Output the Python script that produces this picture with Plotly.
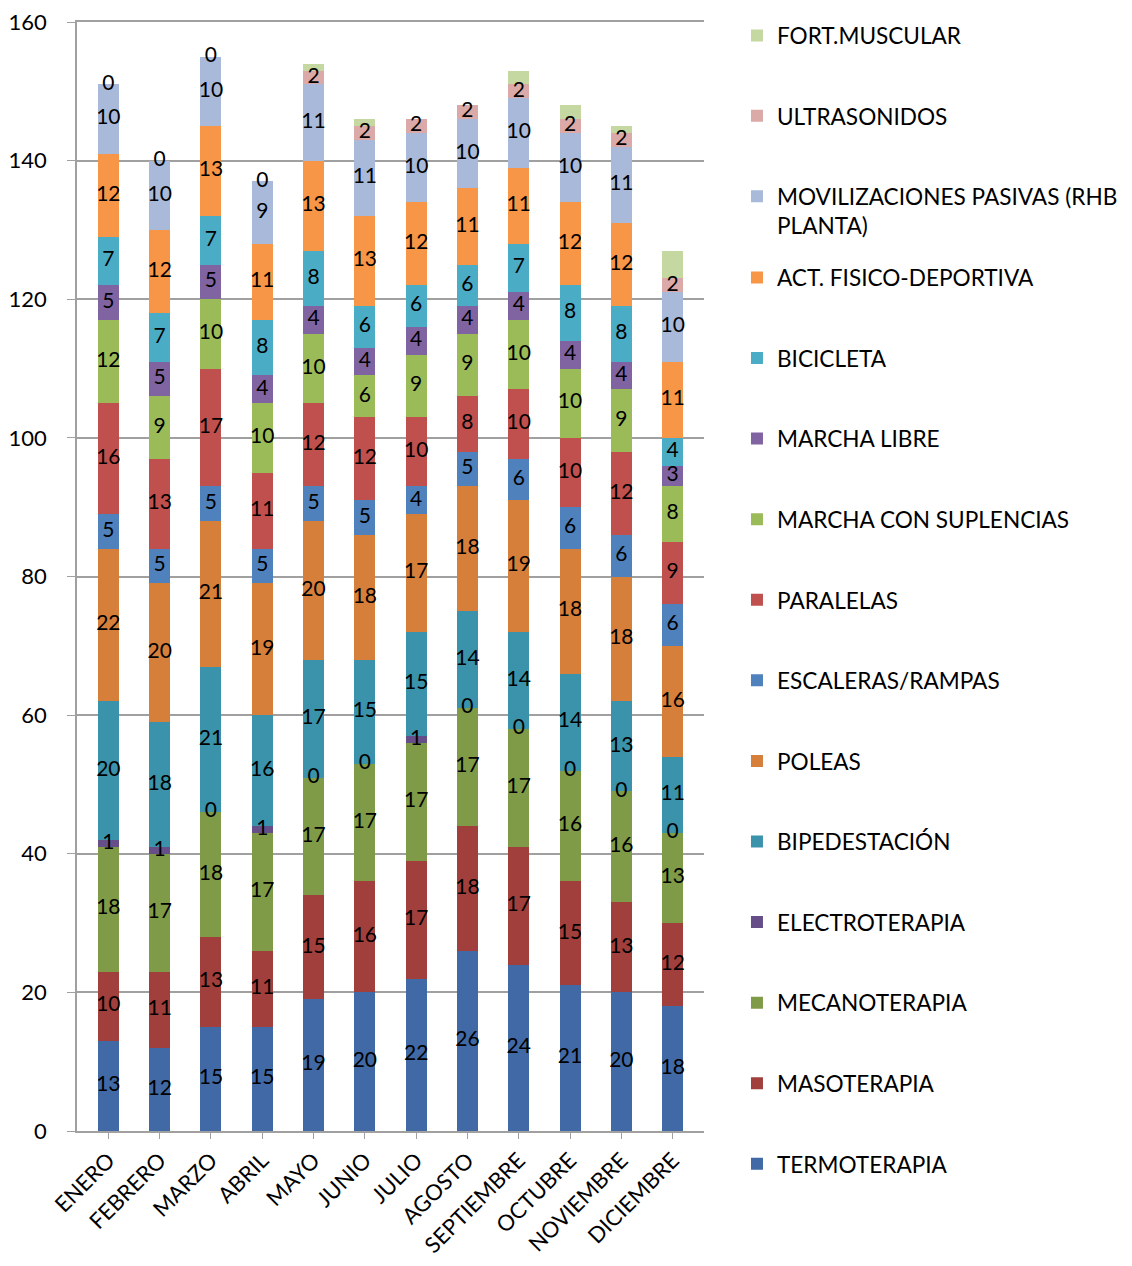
import numpy as np
import plotly.graph_objects as go

months = ["ENERO", "FEBRERO", "MARZO", "ABRIL", "MAYO", "JUNIO", "JULIO",
          "AGOSTO", "SEPTIEMBRE", "OCTUBRE", "NOVIEMBRE", "DICIEMBRE"]

termoterapia   = [13, 12, 15, 15, 19, 20, 22, 26, 24, 21, 20, 18]
masoterapia    = [10, 11, 13, 11, 15, 16, 17, 18, 17, 15, 13, 12]
mecanoterapia  = [18, 17, 18, 17, 17, 17, 17, 17, 17, 16, 16, 13]
electroterapia = [1, 1, 0, 1, 0, 0, 1, 0, 0, 0, 0, 0]
bipedestacion  = [20, 18, 21, 16, 17, 15, 15, 14, 14, 14, 13, 11]
poleas         = [22, 20, 21, 19, 20, 18, 17, 18, 19, 18, 18, 16]
escaleras      = [5, 5, 5, 5, 5, 5, 4, 5, 6, 6, 6, 6]
paralelas      = [16, 13, 17, 11, 12, 12, 10, 8, 10, 10, 12, 9]
marcha_supl    = [12, 9, 10, 10, 10, 6, 9, 9, 10, 10, 9, 8]
marcha_libre   = [5, 5, 5, 4, 4, 4, 4, 4, 4, 4, 4, 3]
bicicleta      = [7, 7, 7, 8, 8, 6, 6, 6, 7, 8, 8, 4]
act_fisico     = [12, 12, 13, 11, 13, 13, 12, 11, 11, 12, 12, 11]
movilizaciones = [10, 10, 10, 9, 11, 11, 10, 10, 10, 10, 11, 10]
ultrasonidos   = [0, 0, 0, 0, 2, 2, 2, 2, 2, 2, 2, 2]
fort_muscular  = [0, 0, 0, 0, 1, 1, 0, 0, 2, 2, 1, 4]

series = [
    ("TERMOTERAPIA", termoterapia, "#4069A6", True),
    ("MASOTERAPIA", masoterapia, "#A03F3C", True),
    ("MECANOTERAPIA", mecanoterapia, "#7F9B47", True),
    ("ELECTROTERAPIA", electroterapia, "#664F89", True),
    ("BIPEDESTACIÓN", bipedestacion, "#3A93AB", True),
    ("POLEAS", poleas, "#D67F3B", True),
    ("ESCALERAS/RAMPAS", escaleras, "#4F81BD", True),
    ("PARALELAS", paralelas, "#C0504D", True),
    ("MARCHA CON SUPLENCIAS", marcha_supl, "#9BBB59", True),
    ("MARCHA LIBRE", marcha_libre, "#8064A2", True),
    ("BICICLETA", bicicleta, "#4BACC6", True),
    ("ACT. FISICO-DEPORTIVA", act_fisico, "#F79646", True),
    ("MOVILIZACIONES PASIVAS (RHB<br>PLANTA)", movilizaciones, "#A8B9DA", True),
    ("ULTRASONIDOS", ultrasonidos, "#DBA9A8", True),
    ("FORT.MUSCULAR", fort_muscular, "#C5D8A2", False),
]

FONT = "Lato, Calibri, 'Open Sans', sans-serif"

fig = go.Figure()
cum = np.zeros(len(months))
lab_x, lab_y, lab_t = [], [], []
n = len(series)
for i, (name, vals, color, labeled) in enumerate(series):
    v = np.array(vals, dtype=float)
    fig.add_trace(go.Bar(
        x=months, y=v, name=name, marker=dict(color=color, line=dict(width=0)),
        legendgroup=f"g{i}", legendrank=n - i, width=0.41,
        legend="legend" if i >= 12 else "legend2",
    ))
    if labeled:
        mids = cum + v / 2.0
        lab_x.extend(months)
        lab_y.extend(mids.tolist())
        lab_t.extend([str(int(a)) for a in v])
    cum = cum + v

fig.add_trace(go.Scatter(
    x=lab_x, y=lab_y, text=lab_t, mode="text", showlegend=False,
    textfont=dict(family=FONT, size=21, color="black"),
    textposition="middle center", hoverinfo="skip",
))

leg_common = dict(
    xanchor="left", yanchor="top", traceorder="grouped", maxheight=1266,
    valign="top", font=dict(family=FONT, size=22.6, color="black"),
    itemwidth=30, bgcolor="rgba(0,0,0,0)",
)

fig.update_layout(
    barmode="stack",
    width=1132, height=1266,
    margin=dict(l=69, r=436, t=14, b=143, autoexpand=False),
    paper_bgcolor="white", plot_bgcolor="white",
    font=dict(family=FONT, size=22, color="black"),
    legend=dict(x=1.0526, y=1.007, tracegroupgap=48, **leg_common),
    legend2=dict(x=1.0526, y=0.7888, tracegroupgap=48.2, **leg_common),
    xaxis=dict(
        tickangle=-45, showgrid=False, showline=True, linecolor="#A0A0A0",
        linewidth=1.5, ticks="outside", ticklen=6, tickcolor="#A0A0A0",
        mirror=True,
        tickfont=dict(family=FONT, size=22, color="black"), automargin=False,
    ),
    yaxis=dict(
        range=[0, 160], dtick=20, showgrid=True, gridcolor="#A0A0A0",
        gridwidth=1.5, showline=True, linecolor="#A0A0A0", linewidth=1.5,
        ticks="outside", ticklen=8, tickcolor="#A0A0A0", zeroline=False,
        ticklabelstandoff=16, ticklabeloverflow="allow",
        tickfont=dict(family=FONT, size=22, color="black"), automargin=False,
    ),
)

fig.write_html("out.html")
